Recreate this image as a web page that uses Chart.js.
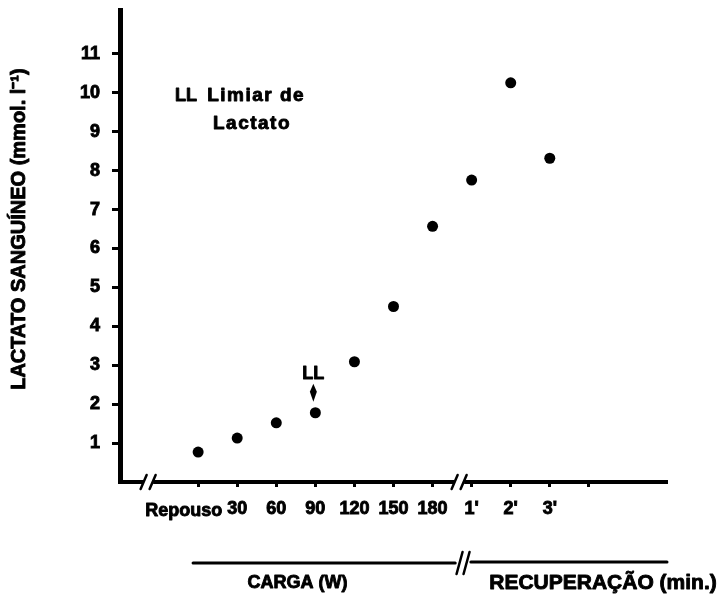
<!DOCTYPE html>
<html>
<head>
<meta charset="utf-8">
<script src="https://cdn.jsdelivr.net/npm/chart.js@4.4.1/dist/chart.umd.min.js"></script>
<style>
  html, body { margin: 0; padding: 0; background: #fff; }
  #wrap { width: 727px; height: 598px; }
</style>
</head>
<body>
<div id="wrap"><canvas id="c" width="727" height="598"></canvas></div>
<script>
// Stages of the test: rest, workloads (W), then recovery minutes; the last slot is an unlabeled tick.
const categories = ['Repouso', '30', '60', '90', '120', '150', '180', "1'", "2'", "3'", ''];
// Blood lactate (mmol/l) at each stage
const lactate = [0.77, 1.13, 1.52, 1.78, 3.09, 4.51, 6.57, 7.76, 10.26, 8.32];
const yTicks = [1, 2, 3, 4, 5, 6, 7, 8, 9, 10, 11];
const yTitle = 'LACTATO SANGUÍNEO (mmol. l⁻¹)';
const thresholdIndex = 3; // LL: lactate threshold at 90 W

const FONT = "'Liberation Sans', Arial, sans-serif";

const points = lactate.map((v, i) => ({ x: i, y: v }));

function slashPair(ctx, x, y, half, gap) {
  ctx.beginPath();
  ctx.moveTo(x - gap / 2 - 3, y + half);
  ctx.lineTo(x - gap / 2 + 3, y - half);
  ctx.moveTo(x + gap / 2 - 3, y + half);
  ctx.lineTo(x + gap / 2 + 3, y - half);
  ctx.stroke();
}

// heavy text: fill plus a thin outline of the same colour
function heavyText(ctx, text, x, y) {
  ctx.fillText(text, x, y);
  ctx.lineWidth = 0.9;
  ctx.strokeText(text, x, y);
}

const extras = {
  id: 'extras',
  afterDraw(chart) {
    const { ctx, chartArea } = chart;
    const xs = chart.scales.x, ys = chart.scales.y;
    const axisY = chartArea.bottom;
    ctx.save();
    ctx.strokeStyle = '#000';
    ctx.fillStyle = '#000';
    ctx.lineCap = 'round';
    ctx.lineJoin = 'round';

    // breaks in the horizontal axis
    [-1.28, 6.68].forEach(v => {
      const px = xs.getPixelForValue(v);
      ctx.fillStyle = '#fff';
      ctx.fillRect(px - 5, axisY - 4, 10, 8);
      ctx.lineWidth = 2.5;
      slashPair(ctx, px, axisY, 7, 9);
    });
    ctx.fillStyle = '#000';

    // vertical axis title
    ctx.save();
    ctx.translate(19, ys.getPixelForValue(6.5));
    ctx.rotate(-Math.PI / 2);
    ctx.font = 'bold 20px ' + FONT;
    ctx.textAlign = 'center';
    ctx.textBaseline = 'middle';
    heavyText(ctx, yTitle, 0, 0);
    ctx.restore();

    // first category label, set to the left of its tick
    ctx.font = 'bold 18px ' + FONT;
    ctx.textAlign = 'right';
    ctx.textBaseline = 'middle';
    heavyText(ctx, categories[0], xs.getPixelForValue(0) + 24, axisY + 29);

    // legend note
    ctx.textAlign = 'left';
    ctx.font = 'bold 18px ' + FONT;
    heavyText(ctx, 'LL', xs.getPixelForValue(-0.59), ys.getPixelForValue(9.92));
    ctx.font = 'bold 19px ' + FONT;
    if ('letterSpacing' in ctx) ctx.letterSpacing = '1.5px';
    heavyText(ctx, 'Limiar de', xs.getPixelForValue(0.23), ys.getPixelForValue(9.92));
    heavyText(ctx, 'Lactato', xs.getPixelForValue(0.38), ys.getPixelForValue(9.2));
    if ('letterSpacing' in ctx) ctx.letterSpacing = '0px';

    // threshold marker above the 90 W point
    const tx = xs.getPixelForValue(thresholdIndex);
    const ty = ys.getPixelForValue(lactate[thresholdIndex]);
    ctx.textAlign = 'center';
    ctx.font = 'bold 18px ' + FONT;
    heavyText(ctx, 'LL', tx - 2, ty - 39);
    ctx.beginPath();
    ctx.moveTo(tx - 2, ty - 29);
    ctx.lineTo(tx + 1.5, ty - 21);
    ctx.lineTo(tx - 2, ty - 11);
    ctx.lineTo(tx - 5.5, ty - 21);
    ctx.closePath();
    ctx.fill();

    // phase bar under the axis
    const by = axisY + 81;
    ctx.lineWidth = 3;
    ctx.beginPath();
    ctx.moveTo(xs.getPixelForValue(-0.13), by);
    ctx.lineTo(xs.getPixelForValue(6.58), by);
    ctx.moveTo(xs.getPixelForValue(6.98), by - 1);
    ctx.lineTo(xs.getPixelForValue(12), by - 1);
    ctx.stroke();
    ctx.lineWidth = 2.5;
    slashPair(ctx, xs.getPixelForValue(6.78), by, 11, 7);

    ctx.font = 'bold 18px ' + FONT;
    ctx.textAlign = 'center';
    heavyText(ctx, 'CARGA (W)', xs.getPixelForValue(2.54), by + 20);
    ctx.font = 'bold 21px ' + FONT;
    ctx.textAlign = 'left';
    heavyText(ctx, 'RECUPERAÇÃO (min.)', xs.getPixelForValue(7.45), by + 20);
    ctx.restore();
  }
};

new Chart(document.getElementById('c'), {
  type: 'scatter',
  data: {
    datasets: [{
      data: points,
      backgroundColor: '#000',
      borderWidth: 0,
      pointRadius: 5.5,
      pointHoverRadius: 5.5
    }]
  },
  options: {
    responsive: false,
    animation: false,
    events: [],
    layout: { padding: { top: 10, right: 60, left: 0, bottom: 0 } },
    plugins: { legend: { display: false }, tooltip: { enabled: false } },
    scales: {
      x: {
        type: 'linear',
        min: -2,
        max: 12,
        afterBuildTicks: s => { s.ticks = categories.map((_, i) => ({ value: i })); },
        afterFit: s => { s.height = 116; s.paddingLeft = 0; s.paddingRight = 0; },
        grid: { drawOnChartArea: false, drawTicks: true, tickLength: 5, tickWidth: 3, color: '#000' },
        border: { display: true, color: '#000', width: 4 },
        ticks: {
          color: '#000',
          font: { family: FONT, size: 18, weight: 'bold' },
          textStrokeColor: '#000',
          textStrokeWidth: 0.9,
          padding: 11,
          maxRotation: 0,
          autoSkip: false,
          callback: v => (v === 0 ? '' : categories[v])
        }
      },
      y: {
        min: 0,
        max: 12.13,
        afterBuildTicks: s => { s.ticks = yTicks.map(v => ({ value: v })); },
        afterFit: s => { s.width = 120; s.paddingTop = 0; s.paddingBottom = 0; },
        grid: { drawOnChartArea: false, drawTicks: true, tickLength: 8, tickWidth: 3, color: '#000' },
        border: { display: true, color: '#000', width: 5 },
        ticks: {
          color: '#000',
          font: { family: FONT, size: 18, weight: 'bold' },
          textStrokeColor: '#000',
          textStrokeWidth: 0.9,
          padding: 12
        }
      }
    }
  },
  plugins: [extras]
});
</script>
</body>
</html>
